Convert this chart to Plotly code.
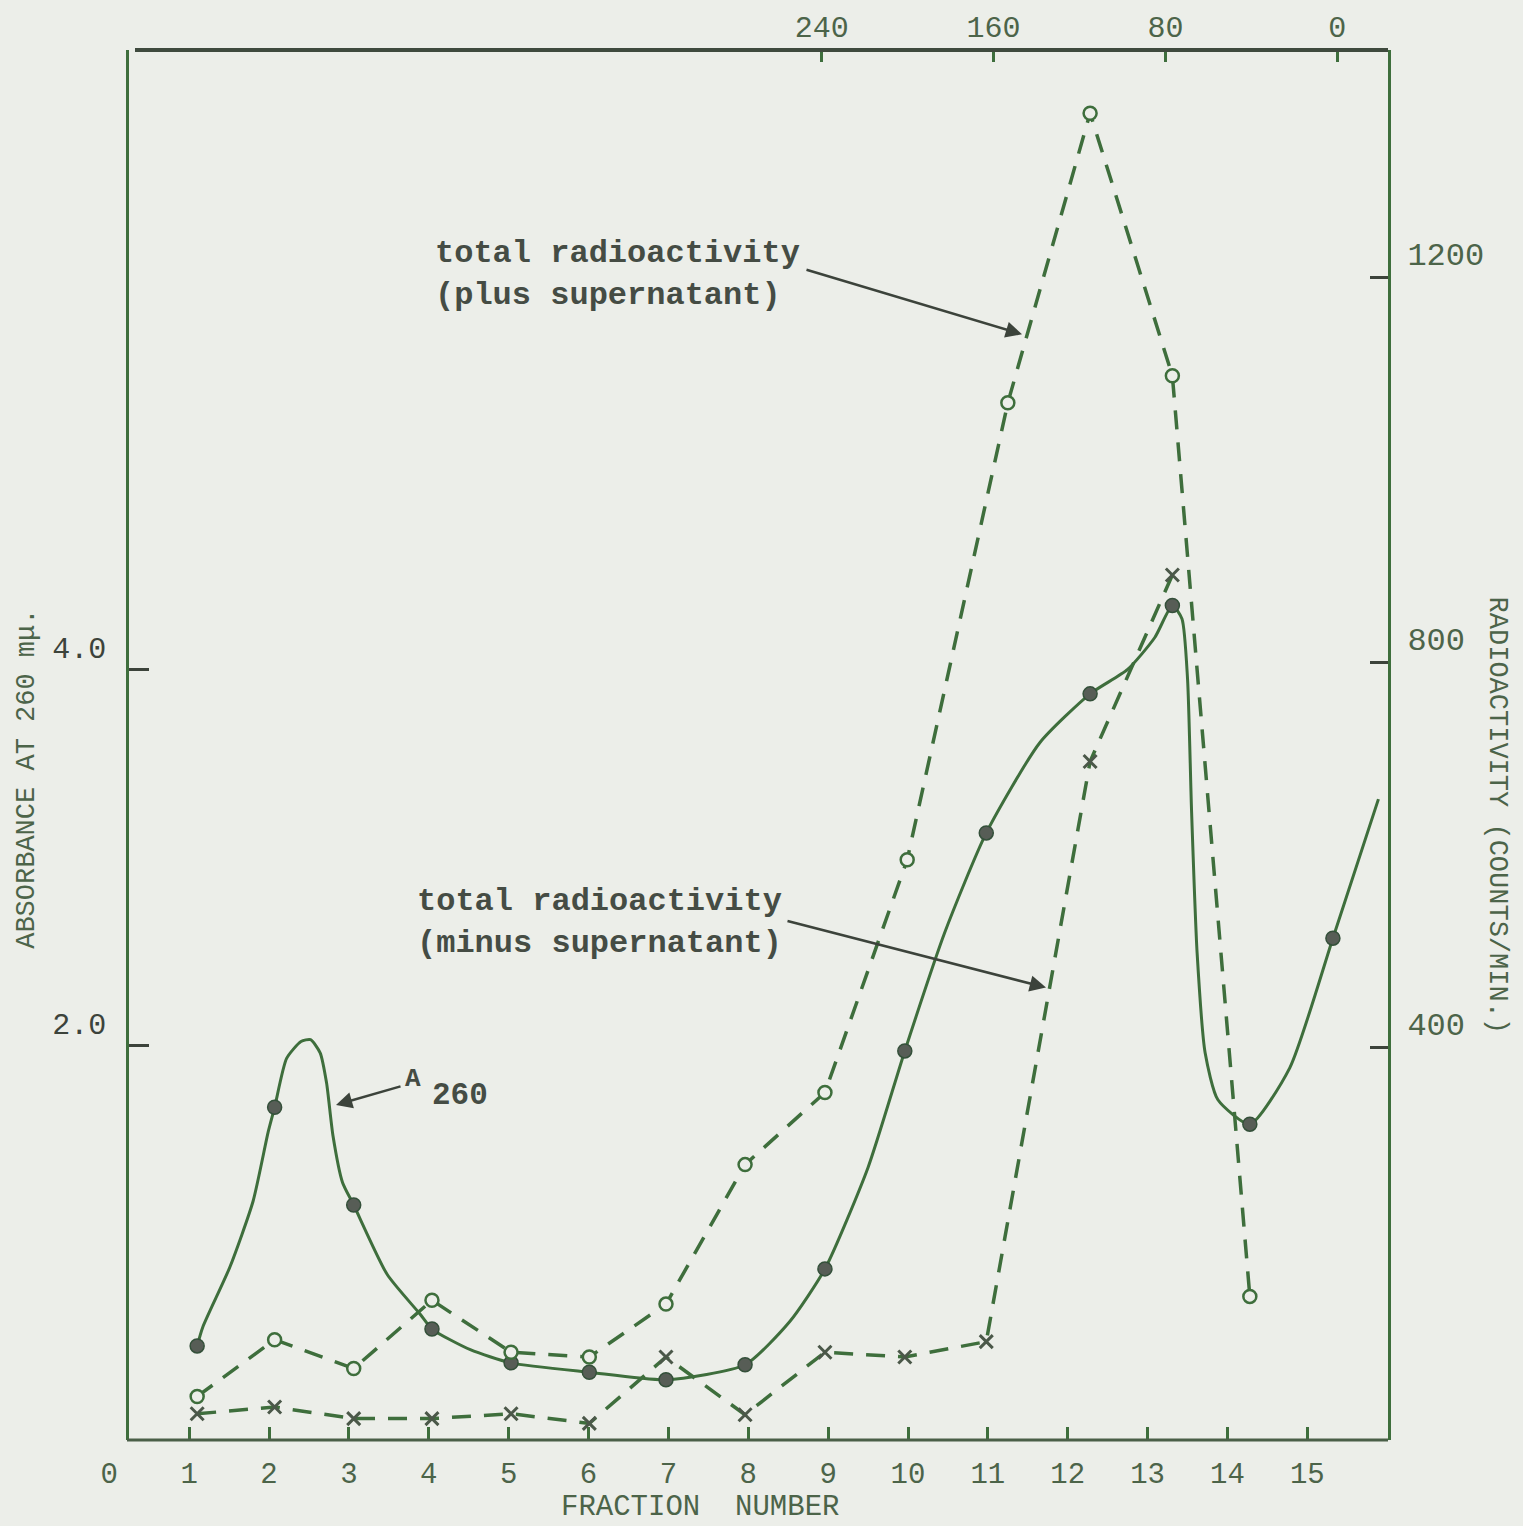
import plotly.graph_objects as go

# ---- data -------------------------------------------------------------
# Fraction positions of the plotted points (as drawn) and A260 readings
frac_a260 = [1.10, 2.07, 3.06, 4.04, 5.03, 6.01, 6.97, 7.96, 8.96, 9.96,
             10.98, 12.28, 13.31, 14.28, 15.32]
a260 = [0.40, 1.67, 1.15, 0.49, 0.31, 0.26, 0.22, 0.30, 0.81, 1.97,
        3.13, 3.87, 4.34, 1.58, 2.57]

# hand-drawn smooth curve through the A260 points
curve_frac = [1.10, 1.17, 1.51, 1.80, 1.99, 2.07, 2.22, 2.40, 2.52,
              2.64, 2.72, 2.80, 2.92, 3.06, 3.48, 3.89, 4.04, 4.52, 5.03, 6.01,
              6.97, 7.96, 8.52, 8.96, 9.50, 9.96, 10.46, 10.98, 11.65,
              12.28, 12.75, 13.09, 13.31, 13.43, 13.50, 13.55, 13.62,
              13.72, 13.88, 14.28, 14.78, 15.32, 15.89]
curve_a260 = [0.40, 0.50, 0.82, 1.17, 1.54, 1.67, 1.93, 2.02, 2.03,
              1.96, 1.80, 1.52, 1.27, 1.15, 0.78, 0.57, 0.49, 0.38, 0.31, 0.26,
              0.22, 0.30, 0.53, 0.81, 1.35, 1.97, 2.60, 3.13, 3.61,
              3.87, 4.00, 4.17, 4.34, 4.27, 3.95, 3.25, 2.49,
              1.96, 1.71, 1.58, 1.88, 2.57, 3.31]

# total radioactivity, plus supernatant (counts/min)
frac_plus = [1.10, 2.07, 3.06, 4.04, 5.03, 6.01, 6.97, 7.96, 8.96, 9.99,
             11.25, 12.28, 13.31, 14.28]
cpm_plus = [37, 96, 66, 137, 83, 78, 133, 278, 353, 595,
            1070, 1371, 1098, 141]

# total radioactivity, minus supernatant (counts/min)
frac_minus = [1.10, 2.07, 3.06, 4.04, 5.03, 6.01, 6.97, 7.96, 8.96, 9.96,
              10.98, 12.28, 13.31]
cpm_minus = [19, 26, 14, 14, 19, 9, 78, 18, 83, 78,
             94, 697, 891]

# axis ticks
fraction_ticks = list(range(0, 16))
fraction_tick_marks = list(range(1, 16))
top_ticks = [240, 160, 80, 0]
abs_ticks = [2.0, 4.0]
cpm_ticks = [400, 800, 1200]

# ---- styling ------------------------------------------------------------
W, H = 1523, 1526
ML, MR, MT, MB = 95, 135, 42, 86
PW, PH = W - ML - MR, H - MT - MB

BG = "#eceee9"
GREEN = "#3e6e3c"
DARK = "#3c433b"
TICKTXT = "#4c6449"
FONT = "Liberation Mono"


def paper(px, py):
    """Page pixel position -> paper fraction."""
    return (px - ML) / PW, (H - MB - py) / PH


fig = go.Figure()

# A260 curve and points
fig.add_trace(go.Scatter(
    x=curve_frac, y=curve_a260, mode="lines",
    line=dict(color=GREEN, width=3, shape="spline", smoothing=0.6),
    hoverinfo="skip", showlegend=False))
fig.add_trace(go.Scatter(
    x=frac_a260, y=a260, mode="markers",
    marker=dict(symbol="circle", size=14, color="#575d56",
                line=dict(color="#34503a", width=1.5)),
    showlegend=False, name="A260"))

# radioactivity series on the right axis
fig.add_trace(go.Scatter(
    x=frac_plus, y=cpm_plus, mode="lines+markers", yaxis="y2",
    line=dict(color=GREEN, width=3.5, dash="19px,13px"),
    marker=dict(symbol="circle", size=13, color=BG,
                line=dict(color=GREEN, width=2.5)),
    showlegend=False, name="plus supernatant"))
fig.add_trace(go.Scatter(
    x=frac_minus, y=cpm_minus, mode="lines+markers", yaxis="y2",
    line=dict(color=GREEN, width=3.5, dash="19px,13px"),
    marker=dict(symbol="x-thin", size=13, color="#4b5849",
                line=dict(color="#4b5849", width=3)),
    showlegend=False, name="minus supernatant"))

# empty traces so the overlay axes are laid out
fig.add_trace(go.Scatter(x=[], y=[], xaxis="x2", yaxis="y", showlegend=False))
fig.add_trace(go.Scatter(x=[], y=[], xaxis="x3", yaxis="y", showlegend=False))

x_range = [(ML - 109.3) / 79.87, (W - MR - 109.3) / 79.87]
top_range = [120 + (1079.5 - ML) / 2.1475, 120 + (1079.5 - (W - MR)) / 2.1475]
y_range = [(1421 - (H - MB)) / 189.0, (1421 - MT) / 189.0]
y2_range = [(1432 - (H - MB)) / 0.9675, (1432 - MT) / 0.9675]

axis_common = dict(showgrid=False, zeroline=False)

fig.update_layout(
    width=W, height=H,
    margin=dict(l=ML, r=MR, t=MT, b=MB),
    paper_bgcolor=BG, plot_bgcolor=BG,
    font=dict(family=FONT, color=TICKTXT),
    xaxis=dict(range=x_range, tickvals=fraction_ticks, ticks="",
               showline=False, tickfont=dict(size=29, color=TICKTXT),
               ticklabelstandoff=13, **axis_common),
    xaxis3=dict(range=x_range, overlaying="x", anchor="y", side="bottom",
                tickvals=fraction_tick_marks, ticks="inside", ticklen=13,
                tickwidth=2.5, tickcolor=GREEN, showticklabels=False,
                showline=False, **axis_common),
    xaxis2=dict(range=top_range, overlaying="x", anchor="y", side="top",
                tickvals=top_ticks, ticks="inside", ticklen=12, tickwidth=2.5,
                tickcolor=GREEN, showline=False,
                tickfont=dict(size=30, color=TICKTXT), ticklabelstandoff=6,
                **axis_common),
    yaxis=dict(range=y_range, anchor="free", position=(127 - ML) / PW,
               tickvals=abs_ticks, ticktext=["2.0", "4.0"],
               ticks="inside", ticklen=20, tickwidth=2.5, tickcolor=DARK,
               showline=True, linewidth=2.5, linecolor=GREEN,
               ticklabelposition="outside top", ticklabelstandoff=14,
               tickfont=dict(size=30, color=DARK), **axis_common),
    yaxis2=dict(range=y2_range, overlaying="y", side="right", anchor="x",
                tickvals=cpm_ticks, ticks="inside", ticklen=18, tickwidth=2.5,
                tickcolor=DARK, showline=True, linewidth=3, linecolor=GREEN,
                ticklabelposition="outside top", ticklabelstandoff=10,
                tickfont=dict(size=32, color=TICKTXT), **axis_common),
)

# frame: bottom and (heavier) top border
bx0, _ = paper(127, 0)
tx0, _ = paper(135, 0)
fig.add_shape(type="line", xref="paper", yref="paper", x0=bx0, x1=1, y0=0, y1=0,
              line=dict(color="#4a5f48", width=3))
fig.add_shape(type="line", xref="paper", yref="paper", x0=tx0, x1=1, y0=1, y1=1,
              line=dict(color="#3f4a3e", width=4))

# axis titles
tx, ty = paper(700, 1508)
fig.add_annotation(x=tx, y=ty, xref="paper", yref="paper", showarrow=False,
                   xanchor="center", yanchor="middle",
                   text="FRACTION  NUMBER", font=dict(size=29, color=TICKTXT))
tx, ty = paper(27, 775)
fig.add_annotation(x=tx, y=ty, xref="paper", yref="paper", showarrow=False,
                   xanchor="center", yanchor="middle",
                   text="ABSORBANCE AT 260 mμ.", textangle=-90,
                   font=dict(size=27, color=TICKTXT))
tx, ty = paper(1497, 812)
fig.add_annotation(x=tx, y=ty, xref="paper", yref="paper", showarrow=False,
                   xanchor="center", yanchor="middle",
                   text="RADIOACTIVITY (COUNTS/MIN.)", textangle=90,
                   font=dict(size=27, color=TICKTXT))


# series labels
def label(text, px, py, size=32):
    x, y = paper(px, py)
    fig.add_annotation(x=x, y=y, xref="paper", yref="paper", showarrow=False,
                       text=f"<b>{text}</b>", xanchor="left", yanchor="middle",
                       align="left", font=dict(size=size, color="#454c44"))


def arrow(tail, head):
    x, y = paper(*head)
    fig.add_annotation(x=x, y=y, xref="paper", yref="paper", text="",
                       showarrow=True, ax=tail[0] - head[0], ay=tail[1] - head[1],
                       arrowhead=2, arrowsize=1.3, arrowwidth=2.5,
                       arrowcolor=DARK)


label("total radioactivity<br>(plus supernatant)", 433, 268)
arrow((805, 263), (1022, 328))

label("total radioactivity<br>(minus supernatant)", 415, 920)
arrow((786, 918), (1046, 985))

label("A", 403, 1077, size=26)
label("260", 430, 1094, size=31)
arrow((402, 1084), (336, 1103))

fig.write_html("out.html")
